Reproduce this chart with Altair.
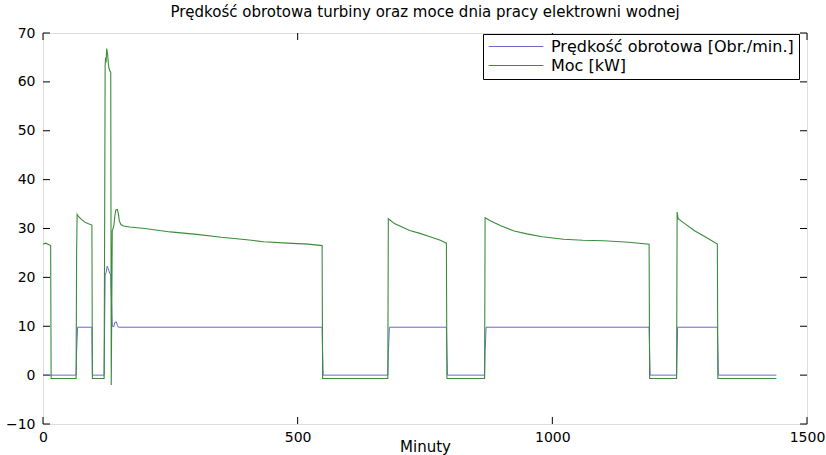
import altair as alt
import pandas as pd

# Moc generatora [kW] - minuty doby i odczyty
moc_min = [0, 5, 13, 15, 16, 65, 66, 67, 70, 76, 82, 88, 96, 97, 120, 121, 122, 123,
           124, 125, 127, 129, 131, 133, 134, 136, 139, 141, 143, 146, 148, 150, 153,
           158, 170, 200, 250, 302, 350, 400, 433, 480, 520, 548, 549, 677, 678, 690,
           705, 720, 740, 760, 780, 792, 793, 867, 868, 880, 900, 925, 950, 980, 1022,
           1060, 1100, 1150, 1190, 1191, 1244, 1245, 1247, 1260, 1280, 1300, 1324,
           1325, 1440]
moc_kw = [26.8, 27.0, 26.6, 26.5, -0.7, -0.7, 25.0, 32.9, 32.4, 31.8, 31.3, 31.0,
          30.7, -0.7, -0.7, 30.0, 63.5, 65.0, 64.0, 66.8, 65.5, 63.0, 62.3, 62.0,
          -2.0, 29.5, 30.5, 32.5, 33.8, 33.9, 33.0, 31.5, 30.8, 30.5, 30.3, 30.0,
          29.3, 28.8, 28.2, 27.7, 27.3, 27.0, 26.8, 26.5, -0.7, -0.7, 32.0, 31.0,
          30.3, 29.6, 29.0, 28.3, 27.6, 27.0, -0.7, -0.7, 32.2, 31.5, 30.5, 29.5,
          28.9, 28.3, 27.8, 27.6, 27.5, 27.2, 26.8, -0.7, -0.7, 33.4, 32.0, 31.0,
          29.5, 28.3, 26.8, -0.7, -0.7]

# Prędkość obrotowa turbiny [Obr./min.]
obr_min = [0, 65, 66, 67, 68, 96, 97, 120, 121, 122, 124, 126, 128, 131, 133, 134,
           136, 139, 141, 144, 146, 148, 548, 549, 550, 677, 678, 679, 680, 792, 793,
           794, 867, 868, 869, 870, 1190, 1191, 1192, 1244, 1245, 1246, 1324, 1325,
           1326, 1440]
obr_val = [0, 0, 4.7, 7.6, 9.8, 9.8, 0, 0, 10.5, 20.5, 21.0, 22.3, 21.8, 20.8, 20.5,
           17.0, 10.0, 9.9, 10.8, 10.9, 10.2, 9.8, 9.8, 4.7, 0, 0, 4.7, 6.7, 9.8, 9.8,
           4.8, 0, 0, 4.8, 7.5, 9.8, 9.8, 5.0, 0, 0, 5.0, 9.8, 9.8, 5.0, 0, 0]

x_ticks = [0, 500, 1000, 1500]
y_ticks = [-10, 0, 10, 20, 30, 40, 50, 60, 70]

SPEED = "Prędkość obrotowa [Obr./min.]"
POWER = "Moc [kW]"
BLUE = "#6a6ac6"
GREEN = "#3a8c3a"
FONT = "DejaVu Sans"

W, H = 764, 391
TICK = 7

speed = pd.DataFrame({"minuta": obr_min, "wartosc": obr_val, "seria": SPEED})
power = pd.DataFrame({"minuta": moc_min, "wartosc": moc_kw, "seria": POWER})
xt = pd.DataFrame({"minuta": x_ticks})
yt = pd.DataFrame({"wartosc": y_ticks})

xs = alt.Scale(domain=[0, 1500], nice=False, zero=False)
ys = alt.Scale(domain=[-10, 70], nice=False, zero=False)

color = alt.Color(
    "seria:N",
    scale=alt.Scale(domain=[SPEED, POWER], range=[BLUE, GREEN]),
    legend=alt.Legend(
        title=None, orient="none", legendX=440, legendY=1,
        symbolType="stroke", symbolSize=3000, symbolStrokeWidth=1,
        clipHeight=15, rowPadding=2,
        labelFont=FONT, labelFontSize=16, labelColor="black", labelOffset=7,
        labelLimit=400,
        strokeColor="black", fillColor="white", padding=5, cornerRadius=0,
    ),
)

x_enc = alt.X("minuta:Q", scale=xs, axis=alt.Axis(
    values=x_ticks, orient="bottom", ticks=False, domain=False, grid=False,
    format="d", labelFlush=False, labelPadding=6, labelFont=FONT,
    labelFontSize=14, labelColor="black",
    title="Minuty", titleFont=FONT, titleFontSize=15, titleFontWeight="normal",
    titleColor="black", titleY=27, titleBaseline="alphabetic"))
y_enc = alt.Y("wartosc:Q", scale=ys, axis=alt.Axis(
    values=y_ticks, orient="left", ticks=False, domain=False, grid=False,
    labelFlush=False, labelPadding=8, labelFont=FONT, labelFontSize=14,
    labelColor="black", title=None))

# kreski podziałki skierowane do wnętrza ramki
tick_mark = dict(color="black", strokeWidth=1)
ticks_bottom = alt.Chart(xt).mark_rule(**tick_mark).encode(
    x=x_enc, y=alt.value(H - TICK), y2=alt.value(H))
ticks_top = alt.Chart(xt).mark_rule(**tick_mark).encode(
    x=x_enc, y=alt.value(0), y2=alt.value(TICK))
ticks_left = alt.Chart(yt).mark_rule(**tick_mark).encode(
    y=y_enc, x=alt.value(0), x2=alt.value(TICK))
ticks_right = alt.Chart(yt).mark_rule(**tick_mark).encode(
    y=y_enc, x=alt.value(W - TICK), x2=alt.value(W))

speed_line = alt.Chart(speed).mark_line(strokeWidth=1).encode(
    x=x_enc, y=y_enc, color=color)
power_line = alt.Chart(power).mark_line(strokeWidth=1.1).encode(
    x=x_enc, y=y_enc, color=color)

chart = alt.layer(
    ticks_bottom, ticks_top, ticks_left, ticks_right, speed_line, power_line
).properties(
    width=W, height=H,
    autosize=alt.AutoSizeParams(type="none"),
    padding={"left": 43, "top": 33, "right": 19, "bottom": 31},
    title=alt.TitleParams(
        "Prędkość obrotowa turbiny oraz moce dnia pracy elektrowni wodnej",
        font=FONT, fontSize=15, fontWeight="normal", color="black",
        anchor="middle", offset=6),
).configure_view(
    stroke="black", strokeWidth=1
).configure(background="white")

chart.save("out.html", embed_options={"renderer": "svg", "actions": False})
